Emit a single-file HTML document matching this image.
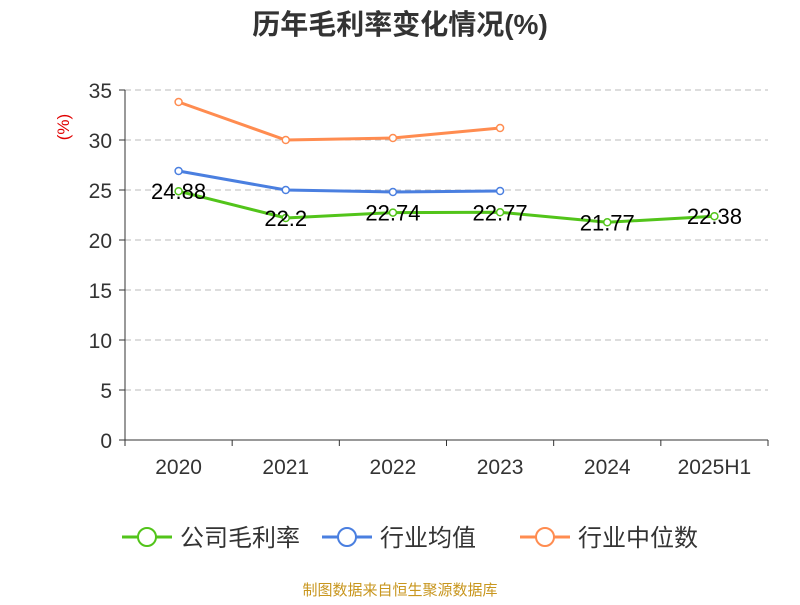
<!DOCTYPE html>
<html><head><meta charset="utf-8"><style>
body{margin:0;background:#fff;}
svg text{font-family:"Liberation Sans","Noto Sans CJK SC",sans-serif;}
</style></head><body>
<svg width="800" height="600" id="c">
<text x="400" y="34" text-anchor="middle" font-size="28" font-weight="bold" fill="#333">历年毛利率变化情况(%)</text>
<text x="69" y="127" font-size="17" fill="#e00000" transform="rotate(-90 69 127)" text-anchor="middle">(%)</text>
<g id="grid"></g><g id="axes"></g><g id="series"></g>
<g id="legend"></g>
<text x="400" y="595" text-anchor="middle" font-size="15" fill="#c8961e">制图数据来自恒生聚源数据库</text>
</svg>
<script>
const categories=["2020","2021","2022","2023","2024","2025H1"];
const companyMargin=[24.88,22.2,22.74,22.77,21.77,22.38];
const industryAvg=[26.9,25.0,24.8,24.9,null,null];
const industryMedian=[33.8,30.0,30.2,31.2,null,null];
const yTicks=[0,5,10,15,20,25,30,35];
const seriesNames=["公司毛利率","行业均值","行业中位数"];
const colors=["#52c41a","#4a7fe0","#ff8c50"];
const NS="http://www.w3.org/2000/svg";
const x0=125,x1=768,y0=440,yTop=90,yMax=35;
const bw=(x1-x0)/categories.length;
const xs=i=>x0+bw*(i+0.5);
const ys=v=>y0-(v/yMax)*(y0-yTop);
function mk(tag,attrs,parent){const e=document.createElementNS(NS,tag);for(const k in attrs)e.setAttribute(k,attrs[k]);parent.appendChild(e);return e;}
const grid=document.getElementById('grid'),axes=document.getElementById('axes'),ser=document.getElementById('series');
yTicks.forEach(t=>{
 if(t>0){const l=mk('line',{x1:x0,x2:x1,y1:ys(t),y2:ys(t),stroke:'#bbb','stroke-dasharray':'6,4'},grid);
 
 }
 const tk=mk('line',{x1:x0-6,x2:x0,y1:ys(t),y2:ys(t),stroke:'#333'},axes);
 
 
 const tx=mk('text',{x:x0-13,y:ys(t)+8,'text-anchor':'end','font-size':21,fill:'#333'},axes);tx.textContent=t;
 
 
});
const ya=mk('line',{x1:x0,x2:x0,y1:yTop,y2:y0,stroke:'#333'},axes);


const xa=mk('line',{x1:x0,x2:x1,y1:y0,y2:y0,stroke:'#333'},axes);


for(let i=0;i<=categories.length;i++){const t=mk('line',{x1:x0+bw*i,x2:x0+bw*i,y1:y0,y2:y0+6,stroke:'#333'},axes);
 
 }
categories.forEach((c,i)=>{const t=mk('text',{x:xs(i),y:y0+34,'text-anchor':'middle','font-size':21,fill:'#333'},axes);t.textContent=c;
 
 });
function drawSeries(vals,col,name,labels){
 const pts=vals.map((v,i)=>v==null?null:[xs(i),ys(v)]).filter(p=>p);
 const pl=mk('polyline',{points:pts.map(p=>p.join(',')).join(' '),fill:'none',stroke:col,'stroke-width':3},ser);
 
 
 vals.forEach((v,i)=>{if(v==null)return;
  const c=mk('circle',{cx:xs(i),cy:ys(v),r:3.5,fill:'#fff',stroke:col,'stroke-width':1.5},ser);
  
  
  if(labels){const t=mk('text',{x:xs(i),y:ys(v)+8,'text-anchor':'middle','font-size':22,fill:'#000'},ser);t.textContent=v;
   
   }
 });
}
drawSeries(industryMedian,colors[2],'industry-median',false);
drawSeries(industryAvg,colors[1],'industry-average',false);
drawSeries(companyMargin,colors[0],'company-margin',true);
const lg=document.getElementById('legend');
const lx=[122,322,520];
seriesNames.forEach((n,i)=>{
 const g=mk('g',{},lg);
 
 
 mk('line',{x1:lx[i],x2:lx[i]+50,y1:537,y2:537,stroke:colors[i],'stroke-width':3},g);
 mk('circle',{cx:lx[i]+25,cy:537,r:9,fill:'#fff',stroke:colors[i],'stroke-width':2},g);
 const t=mk('text',{x:lx[i]+58,y:546,'font-size':24,fill:'#333'},g);t.textContent=n;
});
</script>
</body></html>
